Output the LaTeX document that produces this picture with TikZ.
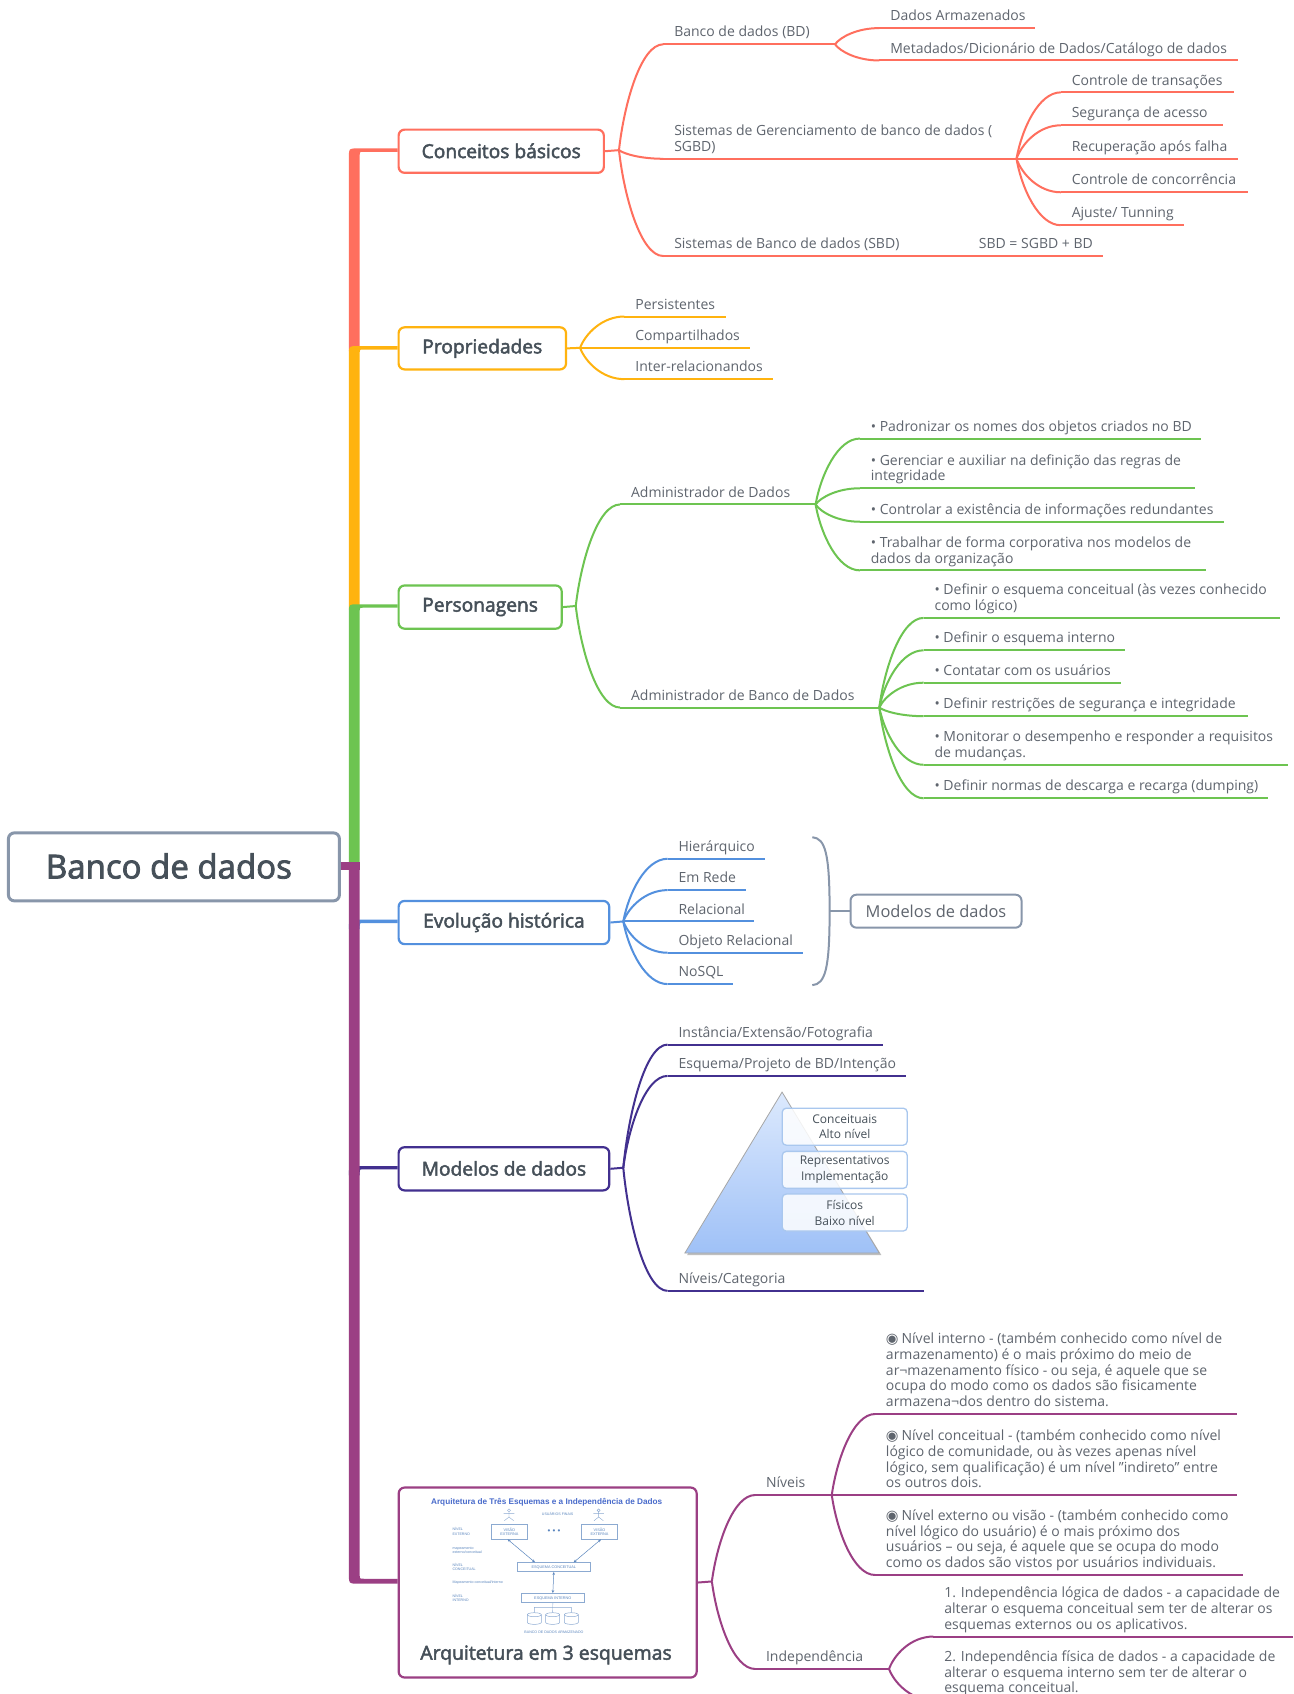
\documentclass[tikz,border=0pt]{standalone}
\usepackage{fontspec}
\usetikzlibrary{calc,arrows.meta,shapes.geometric}
\setmainfont{Open Sans}
\newfontfamily\semib[FakeBold=2.5]{Open Sans}
\newfontfamily\figf{Liberation Sans}
\newfontfamily\symf{DejaVu Sans}
\newcommand{\radio}{{\symf\fontsize{14.5}{15.7}\selectfont\char"25C9}\hspace{3pt}}
\definecolor{cred}{HTML}{FF6F5E}
\definecolor{cyel}{HTML}{FFB30F}
\definecolor{cgrn}{HTML}{6DC451}
\definecolor{cblu}{HTML}{5390DE}
\definecolor{cdpu}{HTML}{42308F}
\definecolor{cmag}{HTML}{9B3F84}
\definecolor{cgry}{HTML}{8896AA}
\definecolor{ctxt}{HTML}{5F656E}
\definecolor{chead}{HTML}{465059}
\definecolor{cfig}{HTML}{5B86BE}
\definecolor{cptop}{HTML}{DCE9FD}
\definecolor{cpbot}{HTML}{9FC1F7}
\tikzset{
  lw/.style={line width=2pt},
  leaftext/.style={inner sep=0pt,anchor=south west,align=left,text=ctxt,text depth=4pt,
    font=\fontsize{14}{15.7}\selectfont},
  topic/.style={draw=#1,line width=2.2pt,rounded corners=6pt,fill=white,inner sep=0pt,text=chead,
    font=\semib\fontsize{19.2}{21}\selectfont},
  figtxt/.style={inner sep=0pt,text=cfig,font=\figf\fontsize{3.6}{4.2}\selectfont,align=left},
  figbox/.style={draw=cfig!70,line width=.6pt,fill=white,inner sep=0pt,text=cfig,
    font=\figf\fontsize{3.8}{4.4}\selectfont,align=center},
  figarrow/.style={cfig,line width=.5pt,{Stealth[length=3pt,width=2.5pt]}-{Stealth[length=3pt,width=2.5pt]}},
  levelbox/.style={draw=cblu!50,line width=1.3pt,rounded corners=4pt,fill=white,fill opacity=.85,text opacity=1,
    minimum width=125pt,minimum height=37pt,text=chead,align=center,inner sep=0pt,
    font=\fontsize{12}{15.8}\selectfont},
}
% leaf: name, x, line y, line end x, colour, text
\newcommand{\leaf}[6]{%
  \coordinate (#1-s) at (#2-10,#3);
  \coordinate (#1-e) at (#4,#3);
  \node[leaftext] (#1) at (#2,#3-2.9) {#6};
  \draw[#5,lw] (#1-s) -- (#1-e);
}
% branch: colour, from, to
\newcommand{\branch}[3]{%
  \draw[#1,lw] let \p1=(#2),\p2=(#3) in (\p1) .. controls ({\x1+0.12*(\x2-\x1)},{\y1+0.45*(\y2-\y1)}) and ({\x1+0.5*(\x2-\x1)},\y2) .. (\p2);
}
% box: name, x1, y1, x2, y2, colour, text
\newcommand{\tbox}[7]{%
  \node[topic=#6,minimum width={(#4-#2)*1.0802pt},minimum height={(#5-#3)*1.0802pt}] (#1) at ({(#2+#4)/2},{(#3+#5)/2}) {\raisebox{1pt}{#7}};
}
% trunk: colour, top y, bottom y, target node
\newcommand{\trunk}[4]{%
  \fill[#1] (323,#3) -- (323,#2+6) .. controls (323,#2-1.6) .. (331,#2-1.6) -- (#4.west|-{0,#2-1.6}) -- (#4.west|-{0,#2+1.6}) -- (336,#2+1.6) .. controls (333,#2+1.6) .. (333,#2+4) -- (333,#3) -- cycle;
}
\begin{document}
\begin{tikzpicture}[x=1.0802pt,y=-1.0802pt]
\useasboundingbox (0,0) rectangle (1197,1568.2);
\fill[white] (0,0) rectangle (1197,1568.2);

% ---------- topics
\node[draw=cgry,line width=3pt,rounded corners=6pt,fill=white,text=chead,inner sep=0pt,
  minimum width=331pt,minimum height=68pt,font=\semib\fontsize{33}{36}\selectfont] (root) at (161,802.5) {\raisebox{2pt}{Banco de dados}\hspace*{10pt}};
\tbox{cb}{369}{120}{559}{160}{cred}{Conceitos básicos}
\tbox{pr}{369}{303}{524}{342}{cyel}{Propriedades}
\tbox{pe}{369}{542}{520}{582}{cgrn}{Personagens}
\tbox{ev}{369}{834}{564}{874}{cblu}{Evolução histórica}
\tbox{mo}{369}{1062}{564}{1102}{cdpu}{Modelos de dados}
\node[draw=cmag,line width=2.2pt,rounded corners=6pt,fill=white,inner sep=0pt,minimum width=298pt,minimum height=190pt] (ar) at (507,1465) {};
\node[inner sep=0pt,text=chead,font=\semib\fontsize{19.4}{21}\selectfont] (arcap) at (505.5,1532) {Arquitetura em 3 esquemas};

% ---------- trunk
\trunk{cred}{139}{325}{cb}
\trunk{cyel}{322}{564}{pr}
\trunk{cgrn}{561}{800}{pe}
\fill[cmag] (root.east|-{0,798}) rectangle (333,805);
\trunk{cblu}{853}{860}{ev}
\trunk{cdpu}{1081}{1088}{mo}
\fill[cmag] (323,798) -- (323,1458) .. controls (323,1466) .. (331,1466) -- (ar.west|-{0,1466}) -- (ar.west|-{0,1461.5}) -- (337,1461.5) .. controls (333,1461.5) .. (333,1458) -- (333,798) -- cycle;

% ---------- Conceitos
\coordinate (j1) at (573,139);
\draw[cred,lw] (cb.east) -- (j1);
\leaf{bd}{624}{41}{773}{cred}{Banco de dados (BD)}
\leaf{sg}{624}{147}{941}{cred}{Sistemas de Gerenciamento de banco de dados (\\SGBD)}
\leaf{sb}{624}{237}{897}{cred}{Sistemas de Banco de dados (SBD)}
\leaf{se}{906}{237}{1021}{cred}{SBD = SGBD + BD}
\branch{cred}{j1}{bd-s}\branch{cred}{j1}{sg-s}\branch{cred}{j1}{sb-s}
\leaf{da}{824}{26}{958}{cred}{Dados Armazenados}
\leaf{me}{824}{56}{1146}{cred}{Metadados/Dicionário de Dados/Catálogo de dados}
\branch{cred}{bd-e}{da-s}\branch{cred}{bd-e}{me-s}
\leaf{ct}{992}{85.5}{1142}{cred}{Controle de transações}
\leaf{sa}{992}{116}{1132}{cred}{Segurança de acesso}
\leaf{re}{992}{147}{1146}{cred}{Recuperação após falha}
\leaf{cc}{992}{178}{1155}{cred}{Controle de concorrência}
\leaf{aj}{992}{208.5}{1096}{cred}{Ajuste/ Tunning}
\branch{cred}{sg-e}{ct-s}\branch{cred}{sg-e}{sa-s}\branch{cred}{sg-e}{re-s}\branch{cred}{sg-e}{cc-s}\branch{cred}{sg-e}{aj-s}

% ---------- Propriedades
\coordinate (j2) at (537,322);
\draw[cyel,lw] (pr.east) -- (j2);
\leaf{p1}{588}{293}{672}{cyel}{Persistentes}
\leaf{p2}{588}{322}{694}{cyel}{Compartilhados}
\leaf{p3}{588}{351}{716}{cyel}{Inter-relacionandos}
\branch{cyel}{j2}{p1-s}\branch{cyel}{j2}{p2-s}\branch{cyel}{j2}{p3-s}

% ---------- Personagens
\coordinate (j3) at (533,561);
\draw[cgrn,lw] (pe.east) -- (j3);
\leaf{ad}{584}{467}{755}{cgrn}{Administrador de Dados}
\leaf{ab}{584}{655}{814}{cgrn}{Administrador de Banco de Dados}
\branch{cgrn}{j3}{ad-s}\branch{cgrn}{j3}{ab-s}
\leaf{a1}{806}{406}{1112}{cgrn}{• Padronizar os nomes dos objetos criados no BD}
\leaf{a2}{806}{452}{1106}{cgrn}{• Gerenciar e auxiliar na definição das regras de\\integridade}
\leaf{a3}{806}{483}{1133}{cgrn}{• Controlar a existência de informações redundantes}
\leaf{a4}{806}{528}{1116}{cgrn}{• Trabalhar de forma corporativa nos modelos de\\dados da organização}
\branch{cgrn}{ad-e}{a1-s}\branch{cgrn}{ad-e}{a2-s}\branch{cgrn}{ad-e}{a3-s}\branch{cgrn}{ad-e}{a4-s}
\leaf{b1}{865}{572}{1185}{cgrn}{• Definir o esquema conceitual (às vezes conhecido\\como lógico)}
\leaf{b2}{865}{602}{1041}{cgrn}{• Definir o esquema interno}
\leaf{b3}{865}{632}{1038}{cgrn}{• Contatar com os usuários}
\leaf{b4}{865}{663}{1155}{cgrn}{• Definir restrições de segurança e integridade}
\leaf{b5}{865}{708}{1192}{cgrn}{• Monitorar o desempenho e responder a requisitos\\de mudanças.}
\leaf{b6}{865}{739}{1174}{cgrn}{• Definir normas de descarga e recarga (dumping)}
\branch{cgrn}{ab-e}{b1-s}\branch{cgrn}{ab-e}{b2-s}\branch{cgrn}{ab-e}{b3-s}\branch{cgrn}{ab-e}{b4-s}\branch{cgrn}{ab-e}{b5-s}\branch{cgrn}{ab-e}{b6-s}

% ---------- Evolução
\coordinate (j4) at (577,853);
\draw[cblu,lw] (ev.east) -- (j4);
\leaf{h1}{628}{795}{708}{cblu}{Hierárquico}
\leaf{h2}{628}{824}{691}{cblu}{Em Rede}
\leaf{h3}{628}{853}{698}{cblu}{Relacional}
\leaf{h4}{628}{882}{743}{cblu}{Objeto Relacional}
\leaf{h5}{628}{911}{679}{cblu}{NoSQL}
\branch{cblu}{j4}{h1-s}\branch{cblu}{j4}{h2-s}\branch{cblu}{j4}{h3-s}\branch{cblu}{j4}{h4-s}\branch{cblu}{j4}{h5-s}
\node[draw=cgry,line width=2pt,rounded corners=6pt,fill=white,text=ctxt,inner sep=0pt,minimum width=171pt,minimum height=33pt,font=\fontsize{16.4}{18}\selectfont] (md) at (866.5,843.5) {Modelos de dados};
\coordinate (brt) at (752,775);
\coordinate (brb) at (752,912);
\coordinate (brm) at (768,843.5);
\draw[cgry,lw] (brt) .. controls (764,776) and (768,790) .. (brm) .. controls (768,897) and (764,911) .. (brb);
\draw[cgry,lw] (brm) -- (md.west);

% ---------- Modelos
\coordinate (j5) at (577,1081);
\draw[cdpu,lw] (mo.east) -- (j5);
\leaf{m1}{628}{967}{817}{cdpu}{Instância/Extensão/Fotografia}
\leaf{m2}{628}{996}{839}{cdpu}{Esquema/Projeto de BD/Intenção}
\leaf{m3}{628}{1195}{855}{cdpu}{Níveis/Categoria}
\branch{cdpu}{j5}{m1-s}\branch{cdpu}{j5}{m2-s}\branch{cdpu}{j5}{m3-s}
% pyramid
\fill[black!25] (724,1012.5) -- (636,1162) -- (816,1162) -- cycle;
\shade[top color=cptop,bottom color=cpbot] (724,1011) -- (634,1160) -- (814,1160) -- cycle;
\draw[gray!70,line width=.8pt] (724,1011) -- (634,1160) -- (814,1160) -- cycle;
\node[levelbox] (l1) at (782,1043) {Conceituais\\Alto nível};
\node[levelbox] (l2) at (782,1083) {Representativos\\Implementação};
\node[levelbox] (l3) at (782,1122.5) {Físicos\\Baixo nível};

% ---------- Arquitetura
\coordinate (j6) at (659,1464);
\draw[cmag,lw] (ar.east) -- (j6);
\leaf{n1}{709}{1384}{770}{cmag}{Níveis}
\leaf{n2}{709}{1545}{823}{cmag}{Independência}
\branch{cmag}{j6}{n1-s}\branch{cmag}{j6}{n2-s}
\leaf{t1}{820}{1309}{1145}{cmag}{\radio Nível interno - (também conhecido como nível de\\armazenamento) é o mais próximo do meio de\\ar¬mazenamento físico - ou seja, é aquele que se\\ocupa do modo como os dados são fisicamente\\armazena¬dos dentro do sistema.}
\leaf{t2}{820}{1384}{1145}{cmag}{\radio Nível conceitual - (também conhecido como nível\\lógico de comunidade, ou às vezes apenas nível\\lógico, sem qualificação) é um nível "indireto" entre\\os outros dois.}
\leaf{t3}{820}{1458}{1151}{cmag}{\radio Nível externo ou visão - (também conhecido como\\nível lógico do usuário) é o mais próximo dos\\usuários – ou seja, é aquele que se ocupa do modo\\como os dados são vistos por usuários individuais.}
\branch{cmag}{n1-e}{t1-s}\branch{cmag}{n1-e}{t2-s}\branch{cmag}{n1-e}{t3-s}
\leaf{i1}{874}{1515}{1197}{cmag}{1. Independência lógica de dados - a capacidade de\\alterar o esquema conceitual sem ter de alterar os\\esquemas externos ou os aplicativos.}
\leaf{i2}{874}{1574}{1197}{cmag}{2. Independência física de dados - a capacidade de\\alterar o esquema interno sem ter de alterar o\\esquema conceitual.}
\branch{cmag}{n2-e}{i1-s}\branch{cmag}{n2-e}{i2-s}

% ---------- embedded figure (coordinates of a 3x crop at 330,1470)
\begin{scope}[x=.3333pt,y=-.3333pt,shift={(330pt,-1470pt)}]
\node[inner sep=0pt,text=cfig!80!blue,font=\figf\bfseries\fontsize{8.2}{9}\selectfont] (ft) at (650,98) {Arquitetura de Três Esquemas e a Independência de Dados};
\node[figtxt] (fu) at (683,131) {USUÁRIOS FINAIS};
\foreach \n/\px in {u1/537,u2/806}{
  \node[draw=cfig!70,circle,inner sep=0pt,minimum size=3pt,line width=.4pt] (\n) at (\px,121) {};
  \draw[cfig!70,line width=.4pt] (\n.south) -- (\px,141) -- (\px-14,152) (\px,141) -- (\px+14,152) (\px-16,130) -- (\px+16,130);
}
\node[figbox,minimum width=35.5pt,minimum height=15pt] (v1) at (538,185.5) {VISÃO\\EXTERNA};
\node[figbox,minimum width=35.5pt,minimum height=15pt] (v2) at (808.5,185.5) {VISÃO\\EXTERNA};
\node[inner sep=0pt,text=cfig,font=\figf\fontsize{8}{9}\selectfont] (dots) at (672,184) {• • •};
\node[figbox,minimum width=73.5pt,minimum height=9.3pt] (ec) at (671.5,291) {ESQUEMA CONCEITUAL};
\node[figbox,minimum width=62.3pt,minimum height=9.3pt] (ei) at (668.5,384) {ESQUEMA INTERNO};
\node[figtxt,anchor=west] (n1f) at (367,184) {NÍVEL\\EXTERNO};
\node[figtxt,anchor=west] (n2f) at (367,242) {mapeamento\\externo/conceitual};
\node[figtxt,anchor=west] (n3f) at (367,290) {NÍVEL\\CONCEITUAL};
\node[figtxt,anchor=west] (n4f) at (367,337) {Mapeamento conceitual/interno};
\node[figtxt,anchor=west] (n5f) at (367,383) {NÍVEL\\INTERNO};
\draw[figarrow] (533,208) -- (615,277);
\draw[figarrow] (813,208) -- (731,277);
\draw[figarrow] (ec.south) -- (ei.north);
\draw[cfig!70,line width=.4pt] (ei.south) -- (668,428) (613,428) -- (613,412) -- (724,412) -- (724,428);
\foreach \px in {613,668,724}{
  \draw[cfig!70,line width=.5pt,fill=white] (\px-21,434) -- (\px-21,457) arc[start angle=180,end angle=0,x radius=21,y radius=6] -- (\px+21,434);
  \draw[cfig!70,line width=.5pt,fill=white] (\px,434) ellipse[x radius=21,y radius=6];
}
\node[figtxt] (fb) at (672,488) {BANCO DE DADOS ARMAZENADO};
\end{scope}
\end{tikzpicture}
\end{document}
